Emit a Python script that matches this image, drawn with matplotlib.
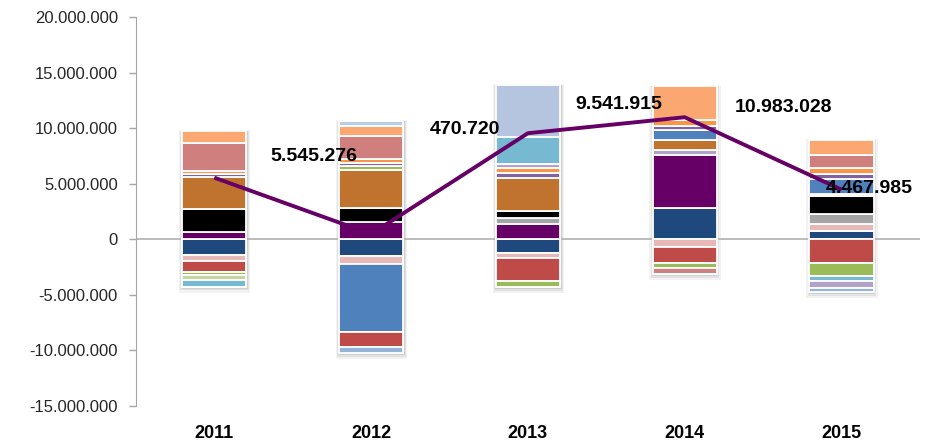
import numpy as np
import matplotlib.pyplot as plt
from matplotlib import rcParams

rcParams['font.family'] = ['Liberation Sans', 'DejaVu Sans']

# 年份与折线数据
years = ['2011', '2012', '2013', '2014', '2015']
net_total = [5545276, 470720, 9541915, 10983028, 4467985]

# 各系列数值（百万），正负分别堆叠
dark_blue   = [-1.40, -1.50, -1.25,  2.80,  0.75]
pink        = [-0.55, -0.70, -0.40, -0.70,  0.60]
dark_purple = [ 0.68,  1.55,  1.40,  4.80,  0.00]
gray        = [ 0.00,  0.00,  0.55,  0.00,  0.95]
black       = [ 2.00,  1.30,  0.60,  0.00,  1.55]
lavender_a  = [ 0.00,  0.00,  0.00,  0.40,  0.00]
brown       = [ 2.90,  3.40,  3.00,  0.90,  0.00]
orange_a    = [ 0.00,  0.00,  0.00,  0.00,  0.25]
steel_blue  = [ 0.00, -6.15,  0.00,  0.95,  1.35]
red         = [-1.00, -1.30, -2.10, -1.45, -2.15]
green       = [-0.30,  0.35, -0.55, -0.45, -1.15]
pale_green  = [-0.40,  0.00,  0.00,  0.00,  0.00]
purple      = [ 0.30,  0.30,  0.40,  0.30,  0.45]
orange_b    = [ 0.30,  0.30,  0.50,  0.55,  0.50]
lavender_b  = [ 0.00,  0.00,  0.35,  0.00,  0.00]
teal        = [-0.60,  0.00,  2.40,  0.00, -0.45]
light_steel = [ 0.00,  0.00,  4.70,  0.00,  0.00]
rose        = [ 2.50,  2.10,  0.00, -0.50,  1.15]
peach       = [ 1.10,  0.90,  0.00,  3.05,  1.40]
lavender_c  = [ 0.00,  0.00,  0.00,  0.00, -0.60]
light_blue  = [ 0.00,  0.45,  0.00,  0.00,  0.00]
sky_blue    = [ 0.00, -0.55,  0.00,  0.00, -0.40]

series = [dark_blue, pink, dark_purple, gray, black, lavender_a, brown, orange_a,
          steel_blue, red, green, pale_green, purple, orange_b, lavender_b, teal,
          light_steel, rose, peach, lavender_c, light_blue, sky_blue]
colors = ['#1F497D', '#E6B9B8', '#660066', '#A5A5A5', '#000000', '#B3A2C7', '#C0732F', '#F79646',
          '#4F81BD', '#BE4B48', '#9BBB59', '#C3D69B', '#8064A2', '#F79646', '#B3A2C7', '#76B9D0',
          '#B6C5DF', '#D07F7F', '#FAA772', '#B3A2C7', '#B9CDE5', '#95B3D7']

x = np.arange(len(years))
width = 0.41

fig = plt.figure(figsize=(9.31, 4.46), dpi=100)
ax = fig.add_axes([0.146, 0.0897, 0.842, 0.8722])

data = np.array(series) * 1e6
pos_tot = np.where(data > 0, data, 0).sum(axis=0)
neg_tot = np.where(data < 0, data, 0).sum(axis=0)

# 柔和阴影
for extra_w, top_pad, bot_pad, c in [(0.045, 0.05e6, 0.55e6, '#f2f2f2'),
                                     (0.028, 0.0, 0.35e6, '#e2e2e2'),
                                     (0.014, 0.0, 0.18e6, '#d0d0d0')]:
    ax.bar(x + 0.003, pos_tot - neg_tot + top_pad + bot_pad, bottom=neg_tot - bot_pad,
           width=width + extra_w, color=c, linewidth=0, zorder=1)

pos_cum = np.zeros(len(years))
neg_cum = np.zeros(len(years))
for vals, c in zip(data, colors):
    bottom = np.where(vals > 0, pos_cum, neg_cum)
    ax.bar(x, vals, bottom=bottom, width=width, color=c,
           edgecolor='white', linewidth=1.3, zorder=2)
    pos_cum += np.where(vals > 0, vals, 0)
    neg_cum += np.where(vals < 0, vals, 0)

ax.axhline(0, color='#B0B0B0', linewidth=1.2, zorder=1.5)

# 折线
ax.plot(x, net_total, color='#660066', linewidth=2.8, zorder=3, solid_capstyle='butt')

def fmt(v):
    return f'{v:,.0f}'.replace(',', '.')

label_pos = [(0.635, 7.41e6), (1.598, 9.84e6), (2.58, 12.09e6), (3.633, 11.9e6), (4.175, 4.53e6)]
for (lx, ly), v in zip(label_pos, net_total):
    ax.text(lx, ly, fmt(v), ha='center', va='center', fontsize=14,
            fontweight='bold', color='black', zorder=4)

ax.set_xlim(-0.5, 4.5)
ax.set_ylim(-15e6, 20e6)
ticks = np.arange(-15e6, 20e6 + 1, 5e6)
ax.set_yticks(ticks)
ax.set_yticklabels([fmt(v) for v in ticks])
ax.set_xticks(x)
ax.set_xticklabels(years, fontweight='bold', fontsize=13)

for s in ['top', 'right', 'bottom']:
    ax.spines[s].set_visible(False)
ax.spines['left'].set_color('#A6A6A6')
ax.tick_params(axis='y', colors='#A6A6A6', labelcolor='#262626', labelsize=12,
               length=5, width=1, pad=8)
ax.tick_params(axis='x', length=0, pad=14, labelcolor='black')

fig.savefig('out.png', dpi=100)
